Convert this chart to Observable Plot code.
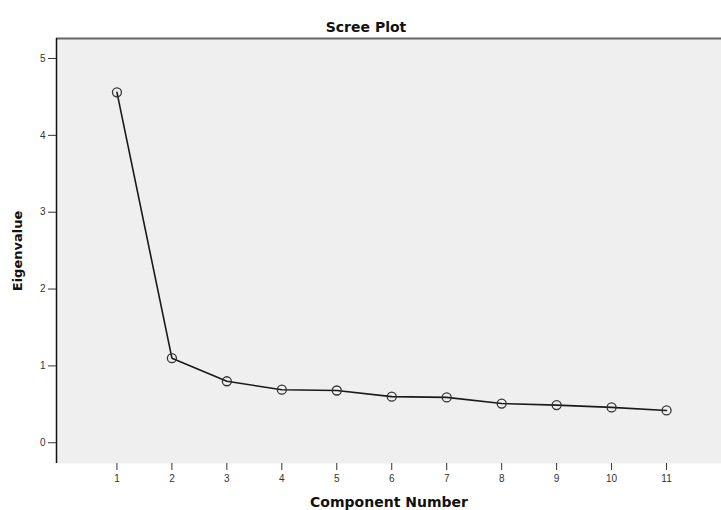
<!DOCTYPE html>
<html>
<head>
<meta charset="utf-8">
<script src="https://cdn.jsdelivr.net/npm/d3@7"></script>
<script src="https://cdn.jsdelivr.net/npm/@observablehq/plot@0.6"></script>
<style>
  html, body { margin: 0; padding: 0; background: #ffffff; }
  #chart svg { display: block; }
</style>
</head>
<body>
<div id="chart"></div>
<script>
const components = [1, 2, 3, 4, 5, 6, 7, 8, 9, 10, 11];
const eigenvalues = [4.56, 1.10, 0.80, 0.69, 0.68, 0.60, 0.59, 0.51, 0.49, 0.46, 0.42];
const yTicks = [0, 1, 2, 3, 4, 5];
const titleText = "Scree Plot";
const xLabel = "Component Number";
const yLabel = "Eigenvalue";

const data = components.map((c, i) => ({component: c, eigenvalue: eigenvalues[i]}));

const boldFont = "DejaVu Sans, Verdana, sans-serif";

const chart = Plot.plot({
  width: 721,
  height: 510,
  marginLeft: 56,
  marginRight: 0,
  marginTop: 38,
  marginBottom: 47,
  style: {background: "#ffffff", fontFamily: "Liberation Sans, Arial, sans-serif"},
  x: {domain: [-0.1, 12]},
  y: {domain: [-0.27, 5.26]},
  marks: [
    Plot.frame({fill: "#efefef", stroke: null}),
    Plot.ruleY([5.26], {stroke: "#666666", strokeWidth: 2}),
    Plot.ruleX([-0.1], {stroke: "#111111", strokeWidth: 1.5}),
    Plot.axisY({
      ticks: yTicks,
      tickSize: 8,
      tickPadding: 3,
      fontSize: 10,
      tickFormat: d => String(d),
      color: "#333333",
      label: yLabel,
      labelAnchor: "center",
      labelArrow: "none",
      labelOffset: 44
    }),
    Plot.axisX({
      ticks: components,
      tickSize: 7,
      tickPadding: 4,
      fontSize: 10,
      color: "#333333",
      label: null
    }),
    Plot.axisX({
      ticks: [],
      label: xLabel,
      labelAnchor: "center",
      labelArrow: "none",
      labelOffset: 43
    }),
    Plot.line(data, {x: "component", y: "eigenvalue", stroke: "#1a1a1a", strokeWidth: 1.6}),
    Plot.dot(data, {x: "component", y: "eigenvalue", r: 4.5, stroke: "#333333", strokeWidth: 1.3, fill: "none"}),
    Plot.text([titleText], {frameAnchor: "top", dy: -16, dx: -23, text: d => d, fontSize: 14, fontWeight: "bold", fontFamily: boldFont, fill: "#111111"})
  ]
});

// style axis labels bold
chart.querySelectorAll("g[aria-label='y-axis label'] text, g[aria-label='x-axis label'] text").forEach(t => {
  t.setAttribute("font-weight", "bold");
  t.setAttribute("font-size", "14");
  t.setAttribute("font-family", boldFont);
  t.setAttribute("fill", "#111111");
});
chart.querySelectorAll("g[aria-label='y-axis label'] text").forEach(t => {
  t.setAttribute("font-size", "13");
});

document.getElementById("chart").appendChild(chart);
</script>
</body>
</html>
